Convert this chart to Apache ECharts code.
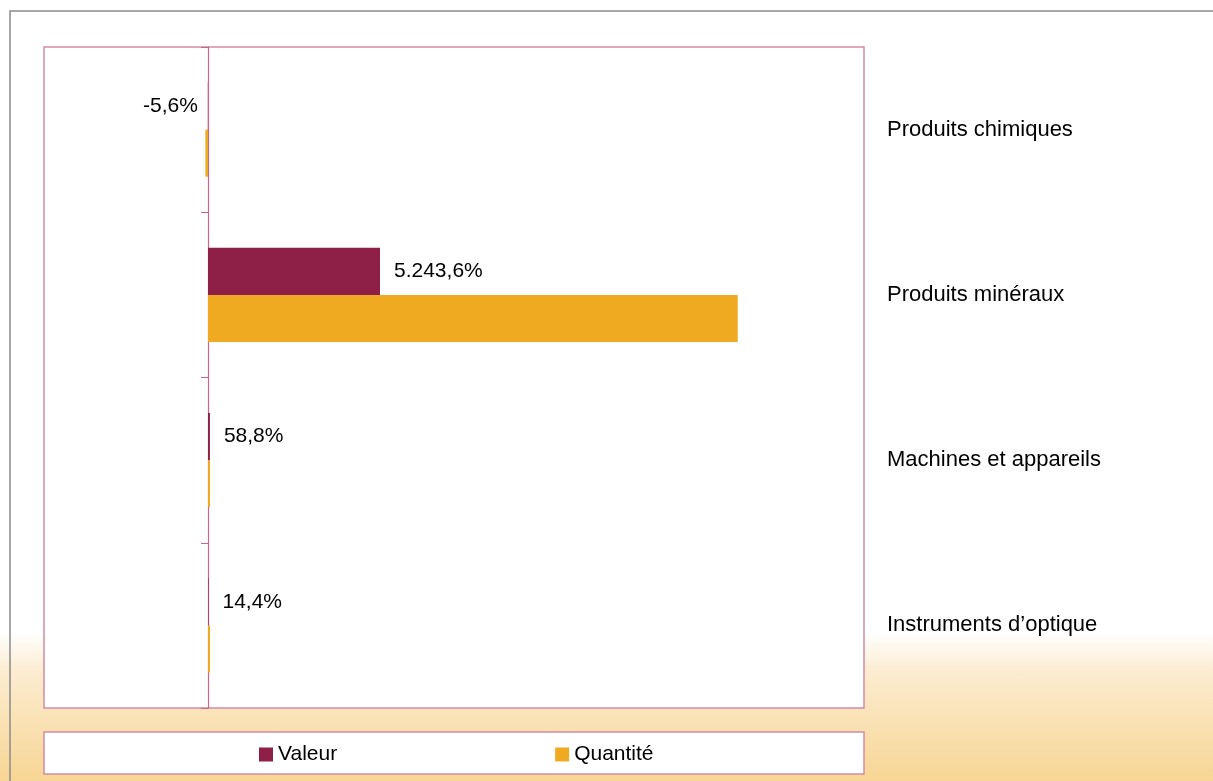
<!DOCTYPE html>
<html>
<head>
<meta charset="utf-8">
<script src="https://cdn.jsdelivr.net/npm/echarts@6/dist/echarts.min.js"></script>
<style>
html,body{margin:0;padding:0;}
body{width:1213px;height:781px;overflow:hidden;background:linear-gradient(to bottom,#ffffff 0%,#ffffff 81%,#fcecd0 86%,#f7d594 100%);}
#c{width:1213px;height:781px;}
</style>
</head>
<body>
<div id="c"></div>
<script>
const categories = ['Produits chimiques', 'Produits minéraux', 'Machines et appareils', 'Instruments d\u2019optique'];
const valeur = [-5.6, 5243.6, 58.8, 14.4];
const quantite = [-80, 16150, 35, 25];
const seriesNames = ['Valeur', 'Quantité'];

function fmt(v) {
  const s = Math.abs(v).toFixed(1).split('.');
  const intPart = s[0].replace(/\B(?=(\d{3})+(?!\d))/g, '.');
  return (v < 0 ? '-' : '') + intPart + ',' + s[1] + '%';
}

const FONT = 'Liberation Sans';
const PINK = '#d48aa4';
const chart = echarts.init(document.getElementById('c'));
chart.setOption({
  backgroundColor: 'transparent',
  animation: false,
  textStyle: { fontFamily: FONT },
  graphic: [
    { type: 'rect', shape: { x: 10, y: 11, width: 1220, height: 800 }, style: { fill: 'none', stroke: '#8a8a8a', lineWidth: 1.5 }, z: -10 },
    { type: 'rect', shape: { x: 44, y: 732, width: 820, height: 42 }, style: { fill: '#ffffff', stroke: PINK, lineWidth: 1.5 }, z: -5 }
  ],
  legend: {
    data: seriesNames,
    left: 259,
    top: 744,
    padding: 0,
    icon: 'rect',
    itemWidth: 14,
    itemHeight: 14,
    itemGap: 218,
    textStyle: { fontFamily: FONT, fontSize: 21, color: '#000' }
  },
  grid: {
    left: 44, top: 47, width: 820, height: 661,
    show: true, backgroundColor: '#ffffff', borderColor: PINK, borderWidth: 1.5
  },
  xAxis: {
    type: 'value', min: -5000, max: 20000,
    axisLabel: { show: false }, splitLine: { show: false }, axisTick: { show: false }, axisLine: { show: false }
  },
  yAxis: [
    {
      type: 'category', data: categories, inverse: true,
      axisLine: { onZero: true, lineStyle: { color: '#c9668c', width: 1.2 } },
      axisTick: { show: true, length: 7, lineStyle: { color: '#c9668c' } },
      axisLabel: { show: false }
    },
    {
      type: 'category', data: categories, inverse: true, position: 'right',
      axisLine: { show: false }, axisTick: { show: false },
      axisLabel: { show: true, margin: 23, fontFamily: FONT, fontSize: 22, color: '#000', align: 'left', padding: [4, 0, 0, 0] }
    }
  ],
  series: [
    {
      name: seriesNames[0], type: 'bar', yAxisIndex: 0,
      data: valeur.map(v => v < 0 ? { value: v, label: { position: 'left', distance: 10 } } : v),
      itemStyle: { color: '#8e1f46' },
      barGap: '0%', barCategoryGap: '43%',
      label: {
        show: true, fontFamily: FONT, fontSize: 21, color: '#000', distance: 14,
        position: 'right',
        formatter: p => fmt(p.value)
      }
    },
    {
      name: seriesNames[1], type: 'bar', data: quantite, yAxisIndex: 0,
      itemStyle: { color: '#f0aa22' },
      barGap: '0%', barCategoryGap: '43%',
      barMinHeight: 2
    }
  ]
});
</script>
</body>
</html>
